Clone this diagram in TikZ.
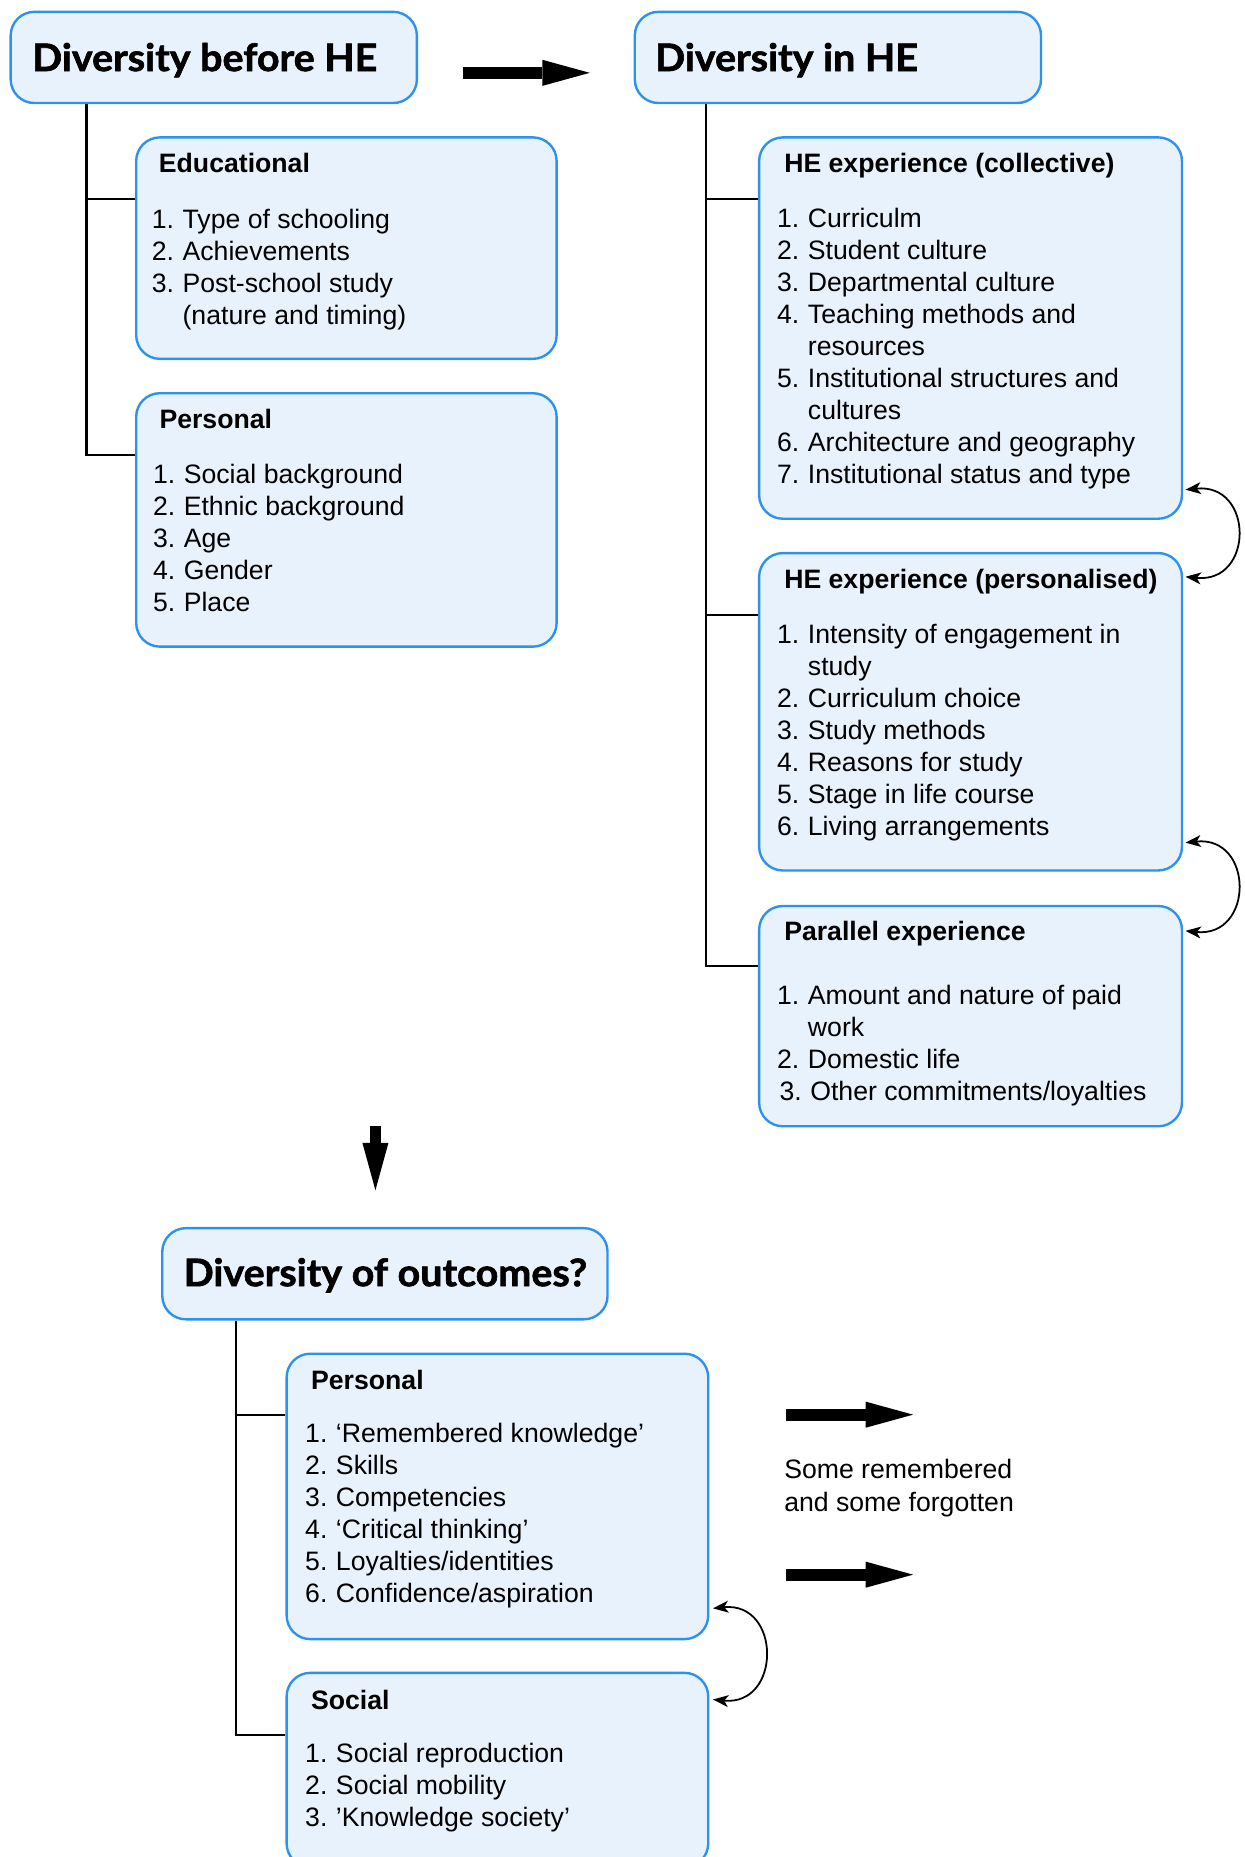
\documentclass[tikz,border=0pt]{standalone}
\usepackage{fontspec}
\setmainfont{Liberation Sans}
\newfontfamily\titlefont[FakeBold=1.6,FakeStretch=1.04]{Lato}
\usetikzlibrary{arrows.meta,calc}
\definecolor{boxblue}{RGB}{45,145,240}
\definecolor{boxfill}{RGB}{232,242,253}
\newcommand\listln[2]{\makebox[26pt][l]{#1}#2}
\newcommand\contln[1]{\hspace*{26pt}#1}
\begin{document}
\begin{tikzpicture}[x=1pt,y=-1pt,
  box/.style={draw=boxblue, fill=boxfill, line width=2pt, rounded corners=20pt, inner sep=0pt, anchor=north west},
  hd/.style={inner sep=0pt, anchor=base west, font=\bfseries\fontsize{22.5}{27}\selectfont},
  lst/.style={inner sep=0pt, anchor=base west, font=\fontsize{22.5}{27}\selectfont},
  big/.style={inner sep=0pt, anchor=base west, font=\titlefont\bfseries\fontsize{32}{36}\selectfont},
  plain/.style={inner sep=0pt, anchor=base west, font=\fontsize{22.5}{28}\selectfont},
  conn/.style={line width=1.8pt, black},
  fat/.style={line width=10pt, -{Triangle[length=40pt,width=22pt,line width=0pt]}},
  curv/.style={line width=1.5pt, {Stealth[length=13pt,width=10pt,inset=3.5pt]}-{Stealth[length=13pt,width=10pt,inset=3.5pt]}}]
\useasboundingbox (0,0) rectangle (1051,1568);

% ---- top left: Diversity before HE
\node[box, minimum width=343pt, minimum height=77pt] (A) at (8,9) {};
\node[big] (At) at (27,60) {Diversity before HE};
\node[box, minimum width=355pt, minimum height=187pt] (edu) at (114,115) {};
\node[hd] (eduh) at (134,146) {Educational};
\node[lst] (edul) at (128,193) {\parbox[t]{330pt}{%
  \listln{1.}{Type of schooling}\\
  \listln{2.}{Achievements}\\
  \listln{3.}{Post-school study}\\
  \contln{(nature and timing)}}};
\node[box, minimum width=355pt, minimum height=214pt] (pa) at (114,331) {};
\node[hd] (pah) at (134.5,362) {Personal};
\node[lst] (pal) at (129,408) {\parbox[t]{330pt}{%
  \listln{1.}{Social background}\\
  \listln{2.}{Ethnic background}\\
  \listln{3.}{Age}\\
  \listln{4.}{Gender}\\
  \listln{5.}{Place}}};
\coordinate (ta) at ($(A.south west)+(65,0)$);
\draw[conn] (ta) |- ($(edu.north west)+(0,53)$);
\draw[conn] (ta) |- ($(pa.north west)+(0,53)$);

% ---- top right: Diversity in HE
\node[box, minimum width=343pt, minimum height=77pt] (B) at (535,9) {};
\node[big] (Bt) at (553,60) {Diversity in HE};
\coordinate (abs) at ($(A.east)+(38,13)$);
\coordinate (abe) at ($(B.west)+(-37,13)$);
\draw[fat] (abs) -- (abe);

\node[box, minimum width=357pt, minimum height=322pt] (coll) at (640,115) {};
\node[hd] (collh) at (662,146) {HE experience (collective)};
\node[lst] (colll) at (656,192) {\parbox[t]{335pt}{%
  \listln{1.}{Curriculm}\\
  \listln{2.}{Student culture}\\
  \listln{3.}{Departmental culture}\\
  \listln{4.}{Teaching methods and}\\
  \contln{resources}\\
  \listln{5.}{Institutional structures and}\\
  \contln{cultures}\\
  \listln{6.}{Architecture and geography}\\
  \listln{7.}{Institutional status and type}}};
\node[box, minimum width=357pt, minimum height=268pt] (pers) at (640,466) {};
\node[hd] (persh) at (662,497) {HE experience (personalised)};
\node[lst] (persl) at (656,543.6) {\parbox[t]{335pt}{%
  \listln{1.}{Intensity of engagement in}\\
  \contln{study}\\
  \listln{2.}{Curriculum choice}\\
  \listln{3.}{Study methods}\\
  \listln{4.}{Reasons for study}\\
  \listln{5.}{Stage in life course}\\
  \listln{6.}{Living arrangements}}};
\node[box, minimum width=357pt, minimum height=186pt] (par) at (640,764) {};
\node[hd] (parh) at (662,794.4) {Parallel experience};
\node[lst] (parl) at (656,848.4) {\parbox[t]{335pt}{%
  \listln{1.}{Amount and nature of paid}\\
  \contln{work}\\
  \listln{2.}{Domestic life}\\
  \hspace*{2pt}\listln{3.}{Other commitments/loyalties}}};
\coordinate (tb) at ($(B.south west)+(61,0)$);
\draw[conn] (tb) |- ($(coll.north west)+(0,53)$);
\draw[conn] (tb) |- ($(pers.north west)+(0,53)$);
\draw[conn] (tb) |- ($(par.north west)+(0,52)$);
\draw[curv] ($(coll.south east)+(2,-25.5)$) .. controls +(58,-6) and +(58,6) .. ($(pers.north east)+(2,21)$);
\draw[curv] ($(pers.south east)+(2,-24.5)$) .. controls +(58,-6) and +(58,6) .. ($(par.north east)+(2,22)$);

% ---- bottom: Diversity of outcomes?
\node[box, minimum width=376pt, minimum height=77pt] (C) at (136,1036) {};
\node[big] (Ct) at (155,1086) {Diversity of outcomes?};
\coordinate (dws) at ($(C.north west)+(181,-85)$);
\coordinate (dwe) at ($(C.north west)+(181,-31)$);
\draw[fat] (dws) -- (dwe);

\node[box, minimum width=356pt, minimum height=241pt] (po) at (241,1142) {};
\node[hd] (poh) at (262.5,1173.5) {Personal};
\node[lst] (pol) at (257.5,1218.4) {\parbox[t]{335pt}{%
  \listln{1.}{‘Remembered knowledge’}\\
  \listln{2.}{Skills}\\
  \listln{3.}{Competencies}\\
  \listln{4.}{‘Critical thinking’}\\
  \listln{5.}{Loyalties/identities}\\
  \listln{6.}{Confidence/aspiration}}};
\node[box, minimum width=356pt, minimum height=164pt] (so) at (241,1411.5) {};
\node[hd] (soh) at (262.5,1443.6) {Social};
\node[lst] (sol) at (257.5,1488.4) {\parbox[t]{335pt}{%
  \listln{1.}{Social reproduction}\\
  \listln{2.}{Social mobility}\\
  \listln{3.}{’Knowledge society’}}};
\coordinate (tc) at ($(C.south west)+(63,0)$);
\draw[conn] (tc) |- ($(po.north west)+(0,52.5)$);
\draw[conn] (tc) |- ($(so.north west)+(0,53.5)$);
\draw[curv] ($(po.south east)+(3,-27)$) .. controls +(58,-6) and +(58,6) .. ($(so.north east)+(3,23.5)$);

\coordinate (r1s) at ($(po.north east)+(65,52.5)$);
\coordinate (r1e) at ($(po.north east)+(172,52.5)$);
\coordinate (r2s) at ($(po.north east)+(65,187.6)$);
\coordinate (r2e) at ($(po.north east)+(172,187.6)$);
\draw[fat] (r1s) -- (r1e);
\draw[fat] (r2s) -- (r2e);
\node[plain] (rem) at (662,1248) {\parbox[t]{250pt}{Some remembered\\and some forgotten}};
\end{tikzpicture}
\end{document}
